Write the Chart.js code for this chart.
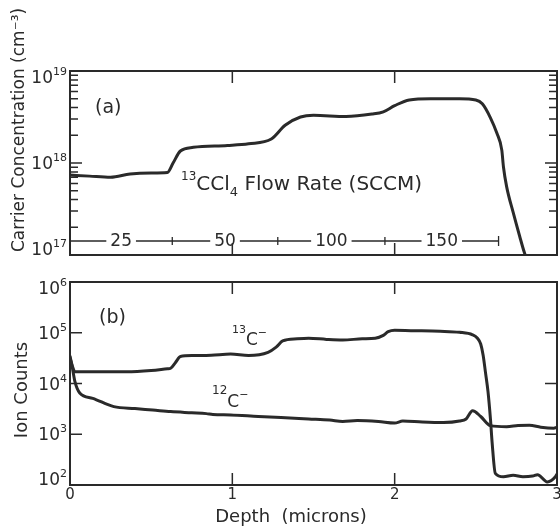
<!DOCTYPE html>
<html><head><meta charset="utf-8">
<script src="https://cdn.jsdelivr.net/npm/chart.js@4"></script>
<style>
html,body{margin:0;padding:0;background:#fff;}
#wrap{position:relative;width:560px;height:526px;}
canvas{position:absolute;left:0;top:0;}
</style></head><body>
<div id="wrap"><canvas id="top" width="560" height="526"></canvas><canvas id="bot" width="560" height="526"></canvas></div>
<script>
// ---------- data ----------
const carrierDepth = [0, 0.12, 0.25, 0.37, 0.50, 0.60, 0.635, 0.68, 0.76, 0.97, 1.10, 1.24, 1.325, 1.42, 1.50, 1.70, 1.86, 1.93, 2.00, 2.09, 2.22, 2.40, 2.50, 2.54, 2.59, 2.63, 2.66, 2.67, 2.69, 2.73, 2.77, 2.80, 2.82];
const carrierConc  = [7.4e17, 7.2e17, 7.0e17, 7.6e17, 7.8e17, 7.9e17, 1.0e18, 1.35e18, 1.48e18, 1.55e18, 1.62e18, 1.82e18, 2.57e18, 3.16e18, 3.3e18, 3.2e18, 3.4e18, 3.6e18, 4.2e18, 4.85e18, 5.0e18, 5.0e18, 4.85e18, 4.4e18, 3.1e18, 2.1e18, 1.38e18, 9.1e17, 5.5e17, 2.9e17, 1.6e17, 1.05e17, 0.85e17];

const c13Depth = [0, 0.015, 0.03, 0.20, 0.35, 0.50, 0.60, 0.62, 0.65, 0.68, 0.76, 0.87, 0.99, 1.10, 1.22, 1.27, 1.31, 1.40, 1.47, 1.58, 1.68, 1.80, 1.88, 1.93, 1.96, 2.00, 2.10, 2.28, 2.40, 2.48, 2.51, 2.53, 2.545, 2.56, 2.575, 2.59, 2.60, 2.62, 2.67, 2.73, 2.79, 2.85, 2.88, 2.94, 2.99, 3.0];
const c13Counts = [3.2e4, 2.2e4, 1.7e4, 1.7e4, 1.7e4, 1.8e4, 1.95e4, 2.0e4, 2.6e4, 3.4e4, 3.55e4, 3.6e4, 3.8e4, 3.55e4, 4.1e4, 5.2e4, 6.9e4, 7.6e4, 7.8e4, 7.4e4, 7.2e4, 7.6e4, 7.8e4, 8.9e4, 1.05e5, 1.12e5, 1.1e5, 1.07e5, 1.02e5, 9.1e4, 7.8e4, 6.0e4, 3.6e4, 1.6e4, 6.9e3, 2.0e3, 710, 170, 145, 155, 145, 150, 160, 115, 145, 165];

const c12Depth = [0, 0.015, 0.03, 0.06, 0.14, 0.27, 0.40, 0.51, 0.62, 0.75, 0.84, 0.88, 0.99, 1.16, 1.30, 1.47, 1.60, 1.68, 1.77, 1.90, 2.00, 2.05, 2.17, 2.30, 2.40, 2.44, 2.48, 2.53, 2.59, 2.69, 2.76, 2.83, 2.90, 2.98, 3.0];
const c12Counts = [3.5e4, 2.0e4, 1.1e4, 6.5e3, 5.1e3, 3.5e3, 3.2e3, 3.0e3, 2.8e3, 2.65e3, 2.55e3, 2.45e3, 2.4e3, 2.24e3, 2.14e3, 2.0e3, 1.9e3, 1.78e3, 1.86e3, 1.78e3, 1.66e3, 1.82e3, 1.74e3, 1.7e3, 1.82e3, 2.0e3, 2.9e3, 2.24e3, 1.48e3, 1.41e3, 1.48e3, 1.51e3, 1.38e3, 1.32e3, 1.38e3];

const depthTicks = [0, 1, 2, 3];
const depthTickLabels = ['0', '1', '2', '3'];
const carrierTicks = [1e17, 1e18, 1e19];
const carrierExps = ['17', '18', '19'];
const ionTicks = [1e2, 1e3, 1e4, 1e5, 1e6];
const ionExps = ['2', '3', '4', '5', '6'];
const flowRates = ['25', '50', '100', '150'];
const flowEdges = [0, 0.63, 1.28, 1.94, 2.64];
const flowLevel = 1.42e17;

// ---------- drawing helpers ----------
const FONT = '"DejaVu Sans", sans-serif';
const INK = '#2a2a2a';
function pts(xs, ys) { return xs.map((x, i) => ({ x: x, y: ys[i] })); }
function rich(ctx, x, y, parts, align) {
  let w = 0;
  parts.forEach(p => { ctx.font = p[1] + 'px ' + FONT; w += ctx.measureText(p[0]).width; });
  let cx = align === 'right' ? x - w : (align === 'center' ? x - w / 2 : x);
  ctx.textAlign = 'left'; ctx.textBaseline = 'alphabetic';
  parts.forEach(p => { ctx.font = p[1] + 'px ' + FONT; ctx.fillText(p[0], cx, y + (p[2] || 0)); cx += ctx.measureText(p[0]).width; });
}
function drawFrameAndTicks(chart, yTicks, yExps, minor, xTickVals) {
  const ctx = chart.ctx, a = chart.chartArea, xs = chart.scales.x, ys = chart.scales.y;
  ctx.save();
  ctx.strokeStyle = INK; ctx.fillStyle = INK;
  ctx.lineWidth = 2;
  ctx.strokeRect(a.left, a.top, a.right - a.left, a.bottom - a.top);
  ctx.lineWidth = 1.5;
  ctx.beginPath();
  xTickVals.forEach(v => {
    const px = xs.getPixelForValue(v);
    if (px <= a.left + 1 || px >= a.right - 1) return;
    ctx.moveTo(px, a.top); ctx.lineTo(px, a.top + 12);
    ctx.moveTo(px, a.bottom); ctx.lineTo(px, a.bottom - 12);
  });
  yTicks.forEach((v, i) => {
    const py = ys.getPixelForValue(v);
    ctx.moveTo(a.left, py); ctx.lineTo(a.left + 12, py);
    ctx.moveTo(a.right, py); ctx.lineTo(a.right - 12, py);
    if (minor && i < yTicks.length - 1) {
      for (let m = 2; m <= 9; m++) {
        const pm = ys.getPixelForValue(v * m);
        ctx.moveTo(a.left, pm); ctx.lineTo(a.left + 8, pm);
        ctx.moveTo(a.right, pm); ctx.lineTo(a.right - 8, pm);
      }
    }
  });
  ctx.stroke();
  yTicks.forEach((v, i) => {
    let py = ys.getPixelForValue(v);
    py = Math.min(Math.max(py, a.top + 6), a.bottom - 6);
    rich(ctx, a.left - 3, py + 6, [['10', 17, 0], [yExps[i], 11, -8]], 'right');
  });
  ctx.restore();
}

const topPlugin = {
  id: 'topDecor',
  afterDraw(chart) {
    const ctx = chart.ctx, xs = chart.scales.x, ys = chart.scales.y;
    drawFrameAndTicks(chart, carrierTicks, carrierExps, true, depthTicks);
    ctx.save();
    ctx.fillStyle = INK; ctx.strokeStyle = INK;
    ctx.save();
    ctx.translate(20, 130); ctx.rotate(-Math.PI / 2);
    ctx.font = '17px ' + FONT; ctx.textAlign = 'center'; ctx.textBaseline = 'middle';
    ctx.fillText('Carrier Concentration (cm\u207B\u00B3)', 0, 0);
    ctx.restore();
    rich(ctx, 95, 113, [['(a)', 19, 0]], 'left');
    rich(ctx, 181, 190, [['13', 12, -10], ['CCl', 20, 0], ['4', 13, 6], [' Flow Rate (SCCM)', 20, 0]], 'left');
    const fy = ys.getPixelForValue(flowLevel);
    ctx.font = '17px ' + FONT; ctx.textAlign = 'center'; ctx.textBaseline = 'middle';
    ctx.lineWidth = 1.3;
    for (let i = 0; i < flowRates.length; i++) {
      const x0 = xs.getPixelForValue(flowEdges[i]);
      const x1 = xs.getPixelForValue(flowEdges[i + 1]);
      const xc = (x0 + x1) / 2;
      const hw = ctx.measureText(flowRates[i]).width / 2 + 4;
      ctx.beginPath();
      ctx.moveTo(x0, fy); ctx.lineTo(xc - hw, fy);
      ctx.moveTo(xc + hw, fy); ctx.lineTo(x1, fy);
      if (i > 0) { ctx.moveTo(x0, fy - 4); ctx.lineTo(x0, fy + 4); }
      ctx.stroke();
      ctx.fillText(flowRates[i], xc, fy + 1);
    }
    const xe = xs.getPixelForValue(flowEdges[flowEdges.length - 1]);
    ctx.beginPath(); ctx.moveTo(xe, fy - 5); ctx.lineTo(xe, fy + 5); ctx.stroke();
    ctx.restore();
  }
};

const botPlugin = {
  id: 'botDecor',
  afterDraw(chart) {
    const ctx = chart.ctx, a = chart.chartArea, xs = chart.scales.x;
    drawFrameAndTicks(chart, ionTicks, ionExps, false, depthTicks);
    ctx.save();
    ctx.fillStyle = INK;
    ctx.font = '15px ' + FONT; ctx.textAlign = 'center'; ctx.textBaseline = 'top';
    depthTicks.forEach((v, i) => ctx.fillText(depthTickLabels[i], xs.getPixelForValue(v), a.bottom + 3));
    ctx.font = '18px ' + FONT; ctx.textBaseline = 'alphabetic';
    ctx.fillText('Depth  (microns)', 291, 522);
    ctx.save();
    ctx.translate(22, 390); ctx.rotate(-Math.PI / 2);
    ctx.font = '18px ' + FONT; ctx.textAlign = 'center'; ctx.textBaseline = 'middle';
    ctx.fillText('Ion Counts', 0, 0);
    ctx.restore();
    rich(ctx, 99, 323, [['(b)', 19, 0]], 'left');
    rich(ctx, 232, 345, [['13', 11, -12], ['C', 17, 0], ['\u2212', 11, -9]], 'left');
    rich(ctx, 212, 407, [['12', 12, -13], ['C', 17, 0], ['\u2212', 11, -9]], 'left');
    ctx.restore();
  }
};

function lineDs(data) {
  return { data: data, borderColor: INK, borderWidth: 3, pointRadius: 0, fill: false, cubicInterpolationMode: 'monotone' };
}
const common = {
  responsive: false, animation: false, devicePixelRatio: 1,
  plugins: { legend: { display: false }, tooltip: { enabled: false } }
};

new Chart(document.getElementById('top'), {
  type: 'line',
  data: { datasets: [lineDs(pts(carrierDepth, carrierConc))] },
  options: Object.assign({}, common, {
    layout: { padding: { left: 70, right: 3, top: 71, bottom: 271 } },
    scales: {
      x: { type: 'linear', min: 0, max: 3, display: false },
      y: { type: 'logarithmic', min: 1e17, max: 1e19, display: false }
    }
  }),
  plugins: [topPlugin]
});

new Chart(document.getElementById('bot'), {
  type: 'line',
  data: { datasets: [lineDs(pts(c13Depth, c13Counts)), lineDs(pts(c12Depth, c12Counts))] },
  options: Object.assign({}, common, {
    layout: { padding: { left: 70, right: 3, top: 282, bottom: 41 } },
    scales: {
      x: { type: 'linear', min: 0, max: 3, display: false },
      y: { type: 'logarithmic', min: 1e2, max: 1e6, display: false }
    }
  }),
  plugins: [botPlugin]
});
</script>
</body></html>
